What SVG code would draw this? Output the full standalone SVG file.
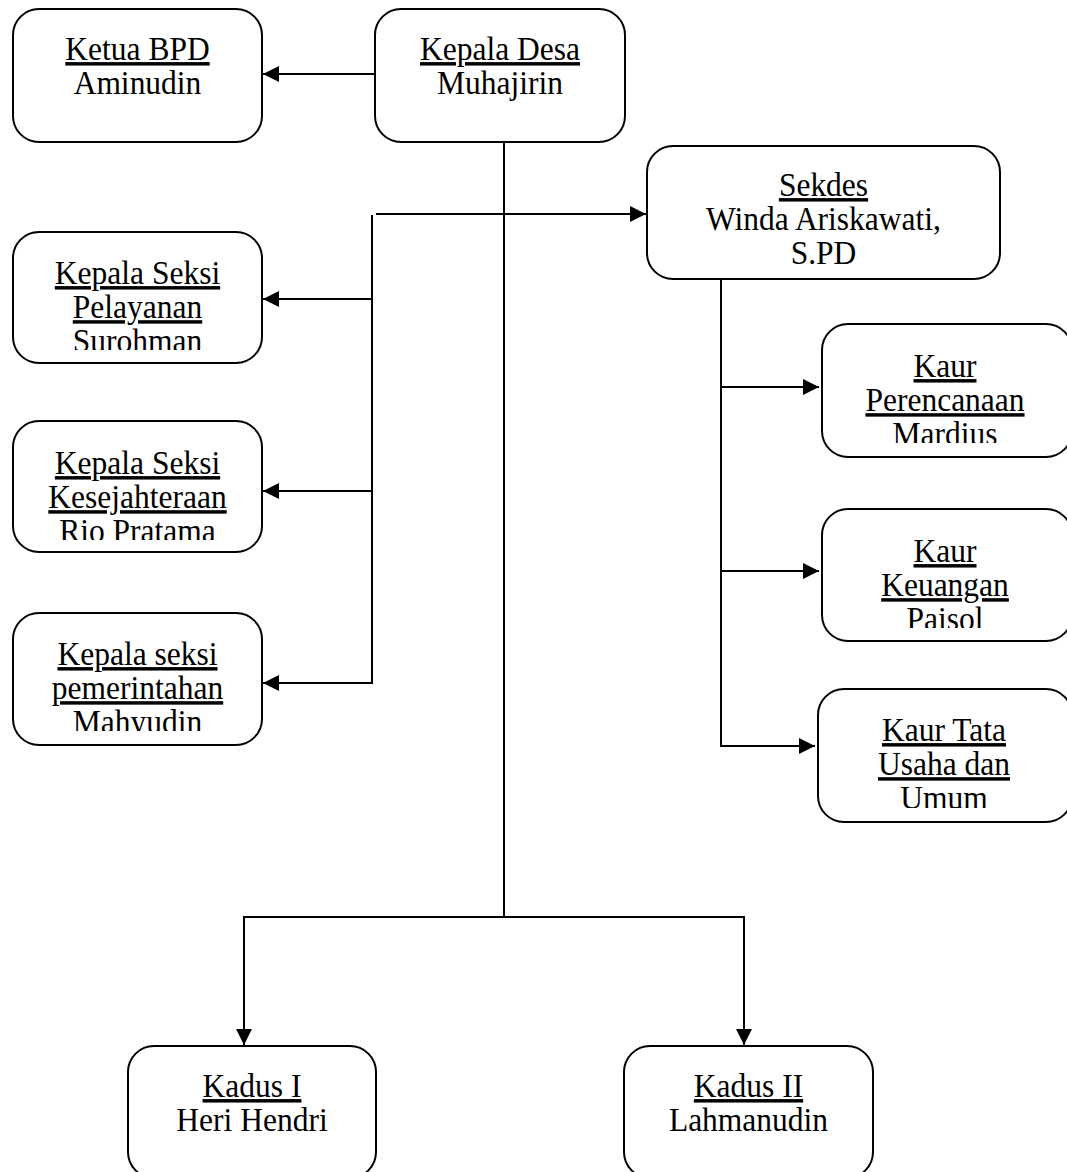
<svg xmlns="http://www.w3.org/2000/svg" width="1067" height="1172" viewBox="0 0 1067 1172">
<style>
.box{fill:#fff;stroke:#000;stroke-width:2}
.t{font-family:"Liberation Serif","Times New Roman",serif;font-size:31.5px;fill:#000;text-anchor:middle}
.u{text-decoration:underline}
.c{fill:none;stroke:#000;stroke-width:2}
</style>
<defs>
<marker id="ah" viewBox="0 0 16 16" refX="16" refY="8" markerWidth="16" markerHeight="16" markerUnits="userSpaceOnUse" orient="auto">
<path d="M0,0 L16,8 L0,16 Z" fill="#000"/>
</marker>
<clipPath id="c1"><rect x="13" y="232" width="249" height="118"/></clipPath>
<clipPath id="c2"><rect x="13" y="421" width="249" height="119"/></clipPath>
<clipPath id="c3"><rect x="13" y="613" width="249" height="118"/></clipPath>
<clipPath id="c4"><rect x="647" y="146" width="353" height="118"/></clipPath>
<clipPath id="c5"><rect x="822" y="324" width="245" height="119"/></clipPath>
<clipPath id="c6"><rect x="822" y="509" width="245" height="119"/></clipPath>
<clipPath id="c7"><rect x="818" y="689" width="249" height="119"/></clipPath>
</defs>
<g id="connectors">
<line class="c" x1="375" y1="74" x2="263" y2="74" marker-end="url(#ah)"/>
<line class="c" x1="504" y1="142" x2="504" y2="917"/>
<line class="c" x1="376" y1="214" x2="646" y2="214" marker-end="url(#ah)"/>
<line class="c" x1="372" y1="215" x2="372" y2="683"/>
<line class="c" x1="372" y1="299" x2="263" y2="299" marker-end="url(#ah)"/>
<line class="c" x1="372" y1="491" x2="263" y2="491" marker-end="url(#ah)"/>
<line class="c" x1="373" y1="683" x2="263" y2="683" marker-end="url(#ah)"/>
<line class="c" x1="721" y1="279" x2="721" y2="746"/>
<line class="c" x1="721" y1="387" x2="819" y2="387" marker-end="url(#ah)"/>
<line class="c" x1="721" y1="571" x2="819" y2="571" marker-end="url(#ah)"/>
<line class="c" x1="720" y1="746" x2="815" y2="746" marker-end="url(#ah)"/>
<polyline class="c" points="244,917 744,917"/>
<line class="c" x1="244" y1="916" x2="244" y2="1045" marker-end="url(#ah)"/>
<line class="c" x1="744" y1="916" x2="744" y2="1045" marker-end="url(#ah)"/>
</g>
<g id="ketua-bpd">
<rect class="box" x="13" y="9" width="249" height="133" rx="26"/>
<text class="t" transform="translate(137.5,60) scale(1,1.1)"><tspan class="u" x="0" y="0">Ketua BPD</tspan><tspan x="0" y="31">Aminudin</tspan></text>
</g>
<g id="kepala-desa">
<rect class="box" x="375" y="9" width="250" height="133" rx="26"/>
<text class="t" transform="translate(500,60) scale(1,1.1)"><tspan class="u" x="0" y="0">Kepala Desa</tspan><tspan x="0" y="31">Muhajirin</tspan></text>
</g>
<g id="sekdes">
<rect class="box" x="647" y="146" width="353" height="133" rx="26"/>
<g clip-path="url(#c4)"><text class="t" transform="translate(823.5,196) scale(1,1.1)"><tspan class="u" x="0" y="0">Sekdes</tspan><tspan x="0" y="31">Winda Ariskawati,</tspan><tspan x="0" y="62">S.PD</tspan></text></g>
</g>
<g id="kasi-pelayanan">
<rect class="box" x="13" y="232" width="249" height="131" rx="26"/>
<g clip-path="url(#c1)"><text class="t" transform="translate(137.5,284) scale(1,1.1)"><tspan class="u" x="0" y="0">Kepala Seksi</tspan><tspan class="u" x="0" y="31">Pelayanan</tspan><tspan x="0" y="62">Surohman</tspan></text></g>
</g>
<g id="kasi-kesejahteraan">
<rect class="box" x="13" y="421" width="249" height="131" rx="26"/>
<g clip-path="url(#c2)"><text class="t" transform="translate(137.5,474) scale(1,1.1)"><tspan class="u" x="0" y="0">Kepala Seksi</tspan><tspan class="u" x="0" y="31">Kesejahteraan</tspan><tspan x="0" y="62">Rio Pratama</tspan></text></g>
</g>
<g id="kasi-pemerintahan">
<rect class="box" x="13" y="613" width="249" height="132" rx="26"/>
<g clip-path="url(#c3)"><text class="t" transform="translate(137.5,665) scale(1,1.1)"><tspan class="u" x="0" y="0">Kepala seksi</tspan><tspan class="u" x="0" y="31">pemerintahan</tspan><tspan x="0" y="62">Mahyudin</tspan></text></g>
</g>
<g id="kaur-perencanaan">
<rect class="box" x="822" y="324" width="250" height="133" rx="26"/>
<g clip-path="url(#c5)"><text class="t" transform="translate(945,377) scale(1,1.1)"><tspan class="u" x="0" y="0">Kaur</tspan><tspan class="u" x="0" y="31">Perencanaan</tspan><tspan x="0" y="62">Mardius</tspan></text></g>
</g>
<g id="kaur-keuangan">
<rect class="box" x="822" y="509" width="250" height="132" rx="26"/>
<g clip-path="url(#c6)"><text class="t" transform="translate(945,562) scale(1,1.1)"><tspan class="u" x="0" y="0">Kaur</tspan><tspan class="u" x="0" y="31">Keuangan</tspan><tspan x="0" y="62">Paisol</tspan></text></g>
</g>
<g id="kaur-tata-usaha">
<rect class="box" x="818" y="689" width="254" height="133" rx="26"/>
<g clip-path="url(#c7)"><text class="t" transform="translate(944,741) scale(1,1.1)"><tspan class="u" x="0" y="0">Kaur Tata</tspan><tspan class="u" x="0" y="31">Usaha dan</tspan><tspan x="0" y="62">Umum</tspan></text></g>
</g>
<g id="kadus-1">
<rect class="box" x="128" y="1046" width="248" height="132" rx="26"/>
<text class="t" transform="translate(252,1097) scale(1,1.1)"><tspan class="u" x="0" y="0">Kadus I</tspan><tspan x="0" y="31">Heri Hendri</tspan></text>
</g>
<g id="kadus-2">
<rect class="box" x="624" y="1046" width="249" height="132" rx="26"/>
<text class="t" transform="translate(748.5,1097) scale(1,1.1)"><tspan class="u" x="0" y="0">Kadus II</tspan><tspan x="0" y="31">Lahmanudin</tspan></text>
</g>
</svg>
